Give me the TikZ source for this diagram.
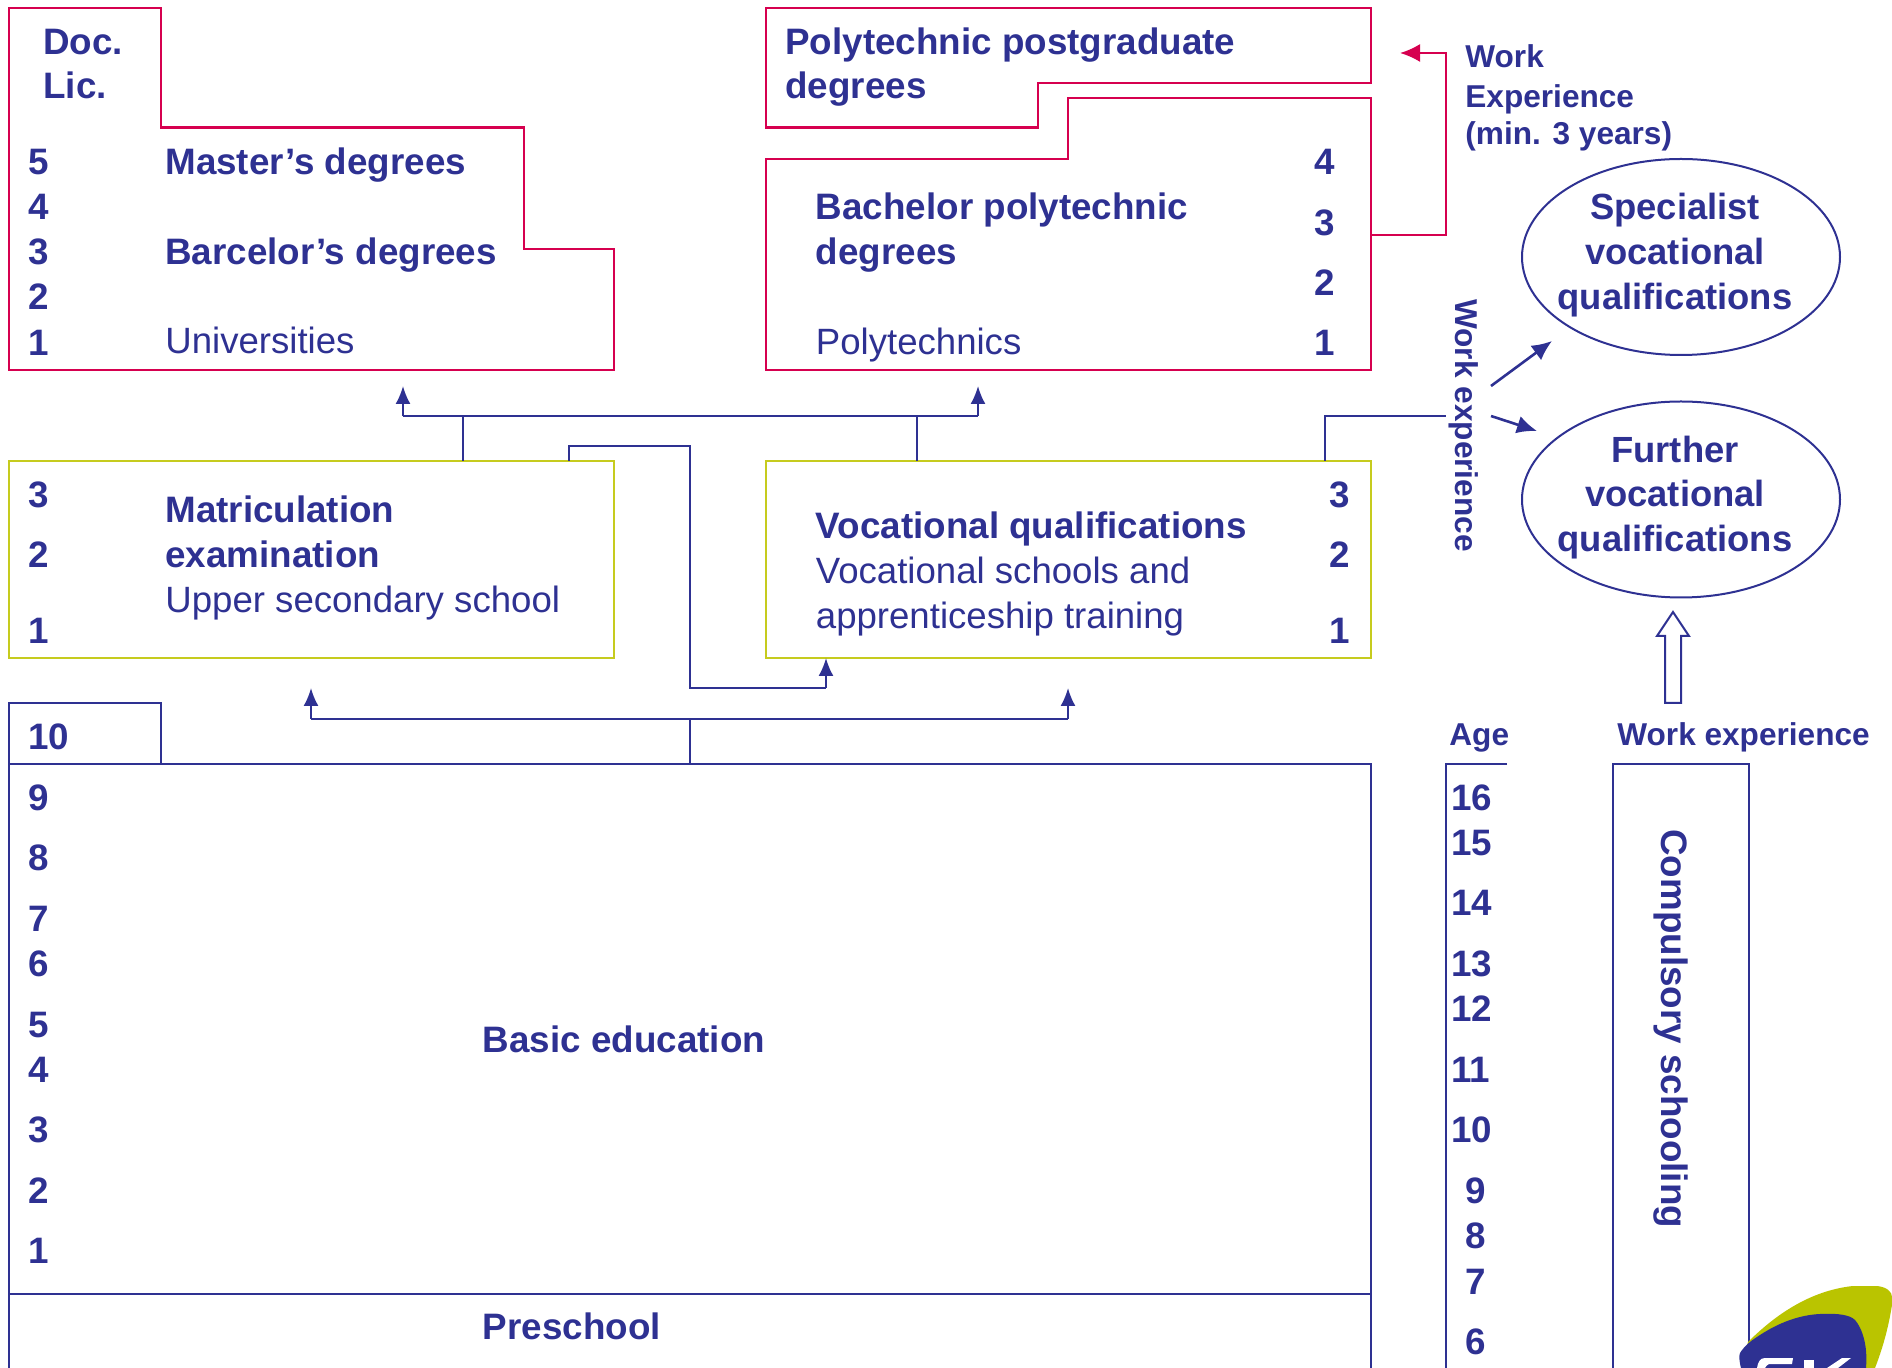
\documentclass[tikz,border=0pt]{standalone}
\usepackage{fontspec}
\usetikzlibrary{shapes.geometric,arrows.meta}
\setmainfont{Liberation Sans}
\definecolor{navy}{HTML}{2E3192}
\definecolor{crim}{HTML}{D6004F}
\definecolor{lime}{HTML}{C6CB1E}
\definecolor{logog}{HTML}{BAC400}
\tikzset{
 redline/.style={draw=crim,line width=1.1pt,line join=miter},
 limebox/.style={draw=lime,line width=1.1pt,rectangle,inner sep=0pt,outer sep=0pt,anchor=north west,minimum width=302.5pt,minimum height=98.5pt},
 navyline/.style={draw=navy,line width=1pt,line join=miter},
 conn/.style={navyline,-{Latex[length=9pt,width=7.5pt]}},
 conndiag/.style={navyline,line width=1.3pt,-{Latex[length=10pt,width=9pt]}},
 connred/.style={redline,-{Latex[length=10pt,width=9pt]}},
 oval/.style={ellipse,draw=navy,line width=1pt,inner sep=0pt,minimum width=159pt,minimum height=98pt},
 bt/.style={anchor=base west,inner sep=0pt,text=navy,font=\fontsize{18.4}{22}\selectfont\bfseries},
 rt/.style={anchor=base west,inner sep=0pt,text=navy,font=\fontsize{18.3}{22}\selectfont},
 st/.style={anchor=base west,inner sep=0pt,text=navy,font=\fontsize{15.8}{20}\selectfont\bfseries},
 ct/.style={anchor=base,inner sep=0pt,text=navy,font=\fontsize{18.2}{22}\selectfont\bfseries},
}
\begin{document}
\begin{tikzpicture}[x=0.5pt,y=-0.5pt]
\useasboundingbox (0,0) rectangle (1892,1368);
% red boxes
\draw[redline] (9,8)--(161,8)--(161,127.5)--(524,127.5)--(524,249)--(614,249)--(614,370)--(9,370)--cycle;
\draw[redline] (766,8)--(1371,8)--(1371,83)--(1038,83)--(1038,127.5)--(766,127.5)--cycle;
\draw[redline] (766,370)--(766,159)--(1068,159)--(1068,98)--(1371,98)--(1371,370)--cycle;
% lime boxes
\node[limebox] (matric) at (9,461) {};
\node[limebox] (voc) at (766,461) {};
% ellipses
\node[oval] (spec) at (1681,257) {};
\node[oval] (furth) at (1681,499.5) {};
% named points
\coordinate (uni) at (403,386);
\coordinate (cornerU) at (403,416.5);
\coordinate (poly) at (978,386);
\coordinate (cornerP) at (978,416.5);
\coordinate (busM) at (463,416.5);
\coordinate (busV) at (917,416.5);
\coordinate (mt) at (463,461);
\coordinate (vt) at (917,461);
\coordinate (mr) at (569,461);
\coordinate (ma) at (569,446);
\coordinate (mb) at (690,446);
\coordinate (mc) at (690,688);
\coordinate (md) at (826,688);
\coordinate (vb) at (826,658);
\coordinate (matIn) at (311,688);
\coordinate (matC) at (311,719);
\coordinate (vocIn) at (1068,688);
\coordinate (vocC) at (1068,719);
\coordinate (busB) at (690,719);
\coordinate (baseTop) at (690,764);
\coordinate (vr) at (1325,461);
\coordinate (vra) at (1325,416.5);
\coordinate (wx) at (1446,416.5);
\coordinate (ra) at (1371,235);
\coordinate (rb) at (1446,235);
\coordinate (rc) at (1446,53);
\coordinate (rd) at (1400,53);
\coordinate (wa) at (1491,386);
\coordinate (wb) at (1552,341);
\coordinate (wc) at (1491,416);
\coordinate (wd) at (1537,431);
% connectors
\draw[conn] (cornerU)--(uni);
\draw[conn] (cornerP)--(poly);
\draw[navyline] (cornerU)--(cornerP);
\draw[navyline] (mt)--(busM);
\draw[navyline] (vt)--(busV);
\draw[navyline] (mr)--(ma)--(mb)--(mc)--(md);
\draw[conn] (md)--(vb);
\draw[conn] (matC)--(matIn);
\draw[conn] (vocC)--(vocIn);
\draw[navyline] (matC)--(vocC);
\draw[navyline] (busB)--(baseTop);
\draw[navyline] (vr)--(vra)--(wx);
\draw[connred] (ra)--(rb)--(rc)--(rd);
\draw[conndiag] (wa)--(wb);
\draw[conndiag] (wc)--(wd);
% basic education frames
\draw[navyline] (9,764)--(9,703)--(161,703)--(161,764);
\draw[navyline] (9,1368)--(9,764)--(1371,764)--(1371,1368);
\draw[navyline,line width=1.4pt] (9,1294)--(1371,1294);
\draw[navyline] (1507,764)--(1446,764)--(1446,1368);
\draw[navyline] (1613,1368)--(1613,764)--(1749,764)--(1749,1368);
% hollow arrow
\draw[navyline,fill=white] (1665,703)--(1665,636)--(1657,636)--(1673,612)--(1689,636)--(1681,636)--(1681,703)--cycle;
% logo
\fill[logog] (1748,1342) .. controls (1780,1310) and (1815,1290) .. (1853,1286) -- (1877,1286) .. controls (1887,1287) and (1892,1292) .. (1892,1297) -- (1892,1305) .. controls (1888,1330) and (1882,1350) .. (1875,1368) -- (1741,1368) -- cycle;
\fill[navy] (1741,1368) .. controls (1739,1360) and (1739,1356) .. (1740,1353) .. controls (1745,1345) and (1752,1340) .. (1760,1335) .. controls (1780,1322) and (1800,1315) .. (1820,1314) .. controls (1838,1313) and (1850,1315) .. (1855,1320) .. controls (1862,1328) and (1868,1345) .. (1866,1368) -- cycle;
\fill[white] (1757,1368) .. controls (1758,1362) and (1760,1358) .. (1765,1358) -- (1793,1358) -- (1792,1364) -- (1769,1364) .. controls (1767,1365) and (1766,1366) .. (1765,1368) -- cycle;
\fill[white] (1804,1368) -- (1804,1360) -- (1814,1360) -- (1814,1368) -- cycle;
\fill[white] (1827,1368) -- (1842,1358) -- (1851,1358) -- (1838,1368) -- cycle;
% text: left top
\node[bt] (t01) at (43,55) {Doc.};
\node[bt] (t02) at (43,99) {Lic.};
\foreach \n/\d/\y in {a/5/175,b/4/220,c/3/265,d/2/310,e/1/356} \node[bt] (u\n) at (28,\y) {\d};
\node[bt] (t03) at (165,175) {Master’s degrees};
\node[bt] (t04) at (165,265) {Barcelor’s degrees};
\node[rt] (t05) at (165,354) {Universities};
\node[bt] (t06) at (785,55) {Polytechnic postgraduate};
\node[bt] (t07) at (785,99) {degrees};
\node[bt] (t08) at (815.5,220) {Bachelor polytechnic};
\node[bt] (t09) at (815.5,265) {degrees};
\node[rt] (t10) at (815.5,355) {Polytechnics};
\foreach \n/\d/\y in {a/4/175,b/3/236,c/2/296,d/1/356} \node[bt] (p\n) at (1314,\y) {\d};
\node[st] (t11) at (1465,68) {Work};
\node[st] (t12) at (1465,108) {Experience};
\node[st] (t13) at (1465,145) {(min. 3 years)};
\node[ct] (t14) at (1675,220) {Specialist};
\node[ct] (t15) at (1675,265) {vocational};
\node[ct] (t16) at (1675,310) {qualifications};
\node[ct] (t17) at (1675,463) {Further};
\node[ct] (t18) at (1675,507) {vocational};
\node[ct] (t19) at (1675,552) {qualifications};
\foreach \n/\d/\y in {a/3/508,b/2/568,c/1/644} {\node[bt] (m\n) at (28,\y) {\d}; \node[bt] (v\n) at (1329,\y) {\d};}
\node[bt] (t20) at (165,523) {Matriculation};
\node[bt] (t21) at (165,568) {examination};
\node[rt] (t22) at (165,613) {Upper secondary school};
\node[bt] (t23) at (815.5,539) {Vocational qualifications};
\node[rt] (t24) at (815.5,584) {Vocational schools and};
\node[rt] (t25) at (815.5,629) {apprenticeship training};
\node[st,rotate=-90] (t26) at (1455,299) {Work experience};
\node[bt,rotate=-90] (t27) at (1661,829) {Compulsory schooling};
\node[st] (t28) at (1449,746) {Age};
\node[st] (t29) at (1617,746) {Work experience};
\node[bt] (t30) at (28,750) {10};
\foreach \n/\d/\y in {a/9/811,b/8/871,c/7/932,d/6/977,e/5/1038,f/4/1083,g/3/1143,h/2/1203,i/1/1263} \node[bt] (b\n) at (28,\y) {\d};
\node[bt] (t31) at (482.5,1053) {Basic education};
\node[bt] (t32) at (482.5,1339) {Preschool};
\foreach \n/\d/\y in {a/16/811,b/15/856,c/14/916,d/13/977,e/12/1022,f/11/1083,g/10/1143} \node[bt] (g\n) at (1451,\y) {\d};
\foreach \n/\d/\y in {h/9/1203,i/8/1248,j/7/1294,k/6/1354} \node[bt] (g\n) at (1465,\y) {\d};
\end{tikzpicture}
\end{document}
